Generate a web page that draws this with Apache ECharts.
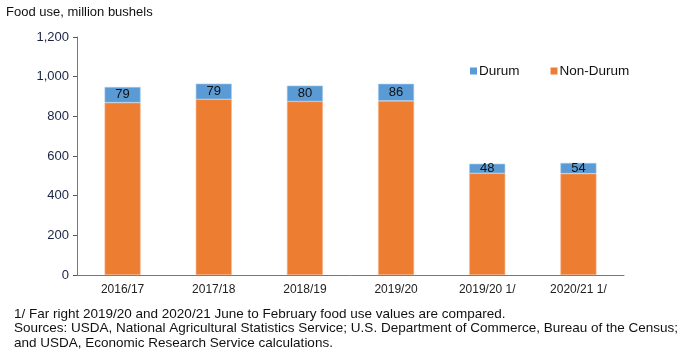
<!DOCTYPE html>
<html>
<head>
<meta charset="utf-8">
<script src="https://cdn.jsdelivr.net/npm/echarts@6/dist/echarts.min.js"></script>
<style>html,body{margin:0;padding:0;background:#fff;}#c{width:680px;height:360px;}</style>
</head>
<body>
<div id="c"></div>
<script>
var categories = ['2016/17', '2017/18', '2018/19', '2019/20', '2019/20 1/', '2020/21 1/'];
var nonDurum = [869, 886, 875, 878, 513, 511];
var durum = [79, 79, 80, 86, 48, 54];
var yTicks = [0, 200, 400, 600, 800, 1000, 1200];

var chart = echarts.init(document.getElementById('c'), null, {renderer: 'canvas'});
var font = 'Liberation Sans, Arial, sans-serif';
chart.setOption({
  animation: false,
  textStyle: {fontFamily: font},
  title: [
    {text: 'Food use, million bushels', left: 6, top: 6, padding: 0, textStyle: {fontSize: 13, fontWeight: 'normal', color: '#111', fontFamily: font}},
    {text: '1/ Far right 2019/20 and 2020/21 June to February food use values are compared.\nSources: USDA, National Agricultural Statistics Service; U.S. Department of Commerce, Bureau of the Census;\nand USDA, Economic Research Service calculations.',
     left: 14, top: 307, padding: 0, textStyle: {fontSize: 13.5, fontWeight: 'normal', color: '#111', lineHeight: 14.5, fontFamily: font}}
  ],
  legend: {
    data: ['Durum', 'Non-Durum'],
    left: 465, top: 59, itemWidth: 7, itemHeight: 7, itemGap: 31, icon: 'rect',
    itemStyle: {borderWidth: 0},
    textStyle: {fontSize: 13.5, color: '#111', padding: [0, 0, 0, -3], fontFamily: font}
  },
  grid: {left: 77, right: 56, top: 37, bottom: 85},
  xAxis: {
    type: 'category', data: categories,
    axisLine: {lineStyle: {color: '#777', width: 1}},
    axisTick: {show: false},
    axisLabel: {fontSize: 12, color: '#222', margin: 9}
  },
  yAxis: {
    type: 'value', min: yTicks[0], max: yTicks[yTicks.length - 1], interval: 200,
    axisLine: {show: true, lineStyle: {color: '#777', width: 1}},
    axisTick: {show: true, length: 4, lineStyle: {color: '#555'}},
    splitLine: {show: false},
    axisLabel: {fontSize: 13, color: '#1a2440', margin: 8, formatter: function (v) { return v.toLocaleString('en-US'); }}
  },
  series: [
    {name: 'Non-Durum', type: 'bar', stack: 't', data: nonDurum, barWidth: 36,
     itemStyle: {color: '#ed7d31', borderColor: '#f5b58f', borderWidth: 0.6}},
    {name: 'Durum', type: 'bar', stack: 't', data: durum, barWidth: 36,
     itemStyle: {color: '#5b9bd5', borderColor: '#a8cbea', borderWidth: 0.6},
     label: {show: true, position: 'inside', fontSize: 13, color: '#111', fontFamily: font}}
  ]
});
</script>
</body>
</html>
